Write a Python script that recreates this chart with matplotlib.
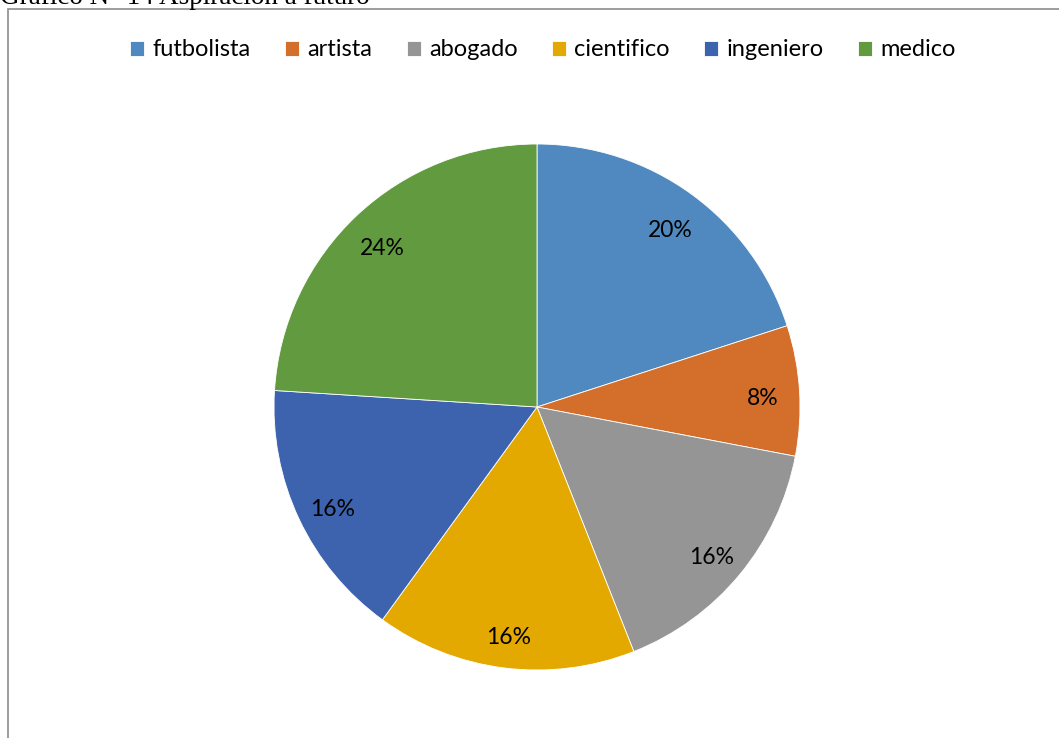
import matplotlib
matplotlib.use('Agg')
import matplotlib.pyplot as plt
import matplotlib.transforms as mtransforms
from matplotlib.patches import Rectangle

# Data
categorias = ['futbolista', 'artista', 'abogado', 'cientifico', 'ingeniero', 'medico']
porcentajes = [20, 8, 16, 16, 16, 24]
colores = ['#4F89BF', '#D36F2B', '#959595', '#E3A900', '#3D63AE', '#629B3F']
titulo = 'Gráfico N° 14 Aspiración a futuro'

W, H = 1059, 738
fig = plt.figure(figsize=(W / 100, H / 100), dpi=100)

# frame around chart area
fig.patches.append(Rectangle((8 / W, -0.05), 1.2, 1 - 9 / H + 0.05, transform=fig.transFigure,
                             fill=False, edgecolor='#8c8c8c', linewidth=1.2))

fig.text(0.0, 1 - 4 / H, titulo, fontsize=19.5, family='Liberation Serif', va='baseline', ha='left')

# pie axes
cx, cy, r = 537, 407, 263
ax = fig.add_axes([(cx - r) / W, (H - cy - r) / H, 2 * r / W, 2 * r / H])
wedges, texts, autotexts = ax.pie(porcentajes, colors=colores, startangle=90, counterclock=False,
                                  autopct='%1.0f%%', pctdistance=0.86,
                                  wedgeprops={'edgecolor': 'white', 'linewidth': 0.6},
                                  textprops={'fontsize': 16.5, 'family': 'Lato'})
ax.set_xlim(-1, 1)
ax.set_ylim(-1, 1)

# nudge labels down a little
shift = mtransforms.ScaledTranslation(0, -6 / 100, fig.dpi_scale_trans)
for t in autotexts:
    t.set_transform(t.get_transform() + shift)

fig.legend(wedges, categorias, loc='center', bbox_to_anchor=(543 / W, 1 - 50 / H), ncol=6,
           frameon=False, prop={'family': 'Lato', 'size': 17}, handlelength=0.6, handleheight=0.6,
           handletextpad=0.35, columnspacing=1.45)

plt.savefig('out.png', dpi=100)
